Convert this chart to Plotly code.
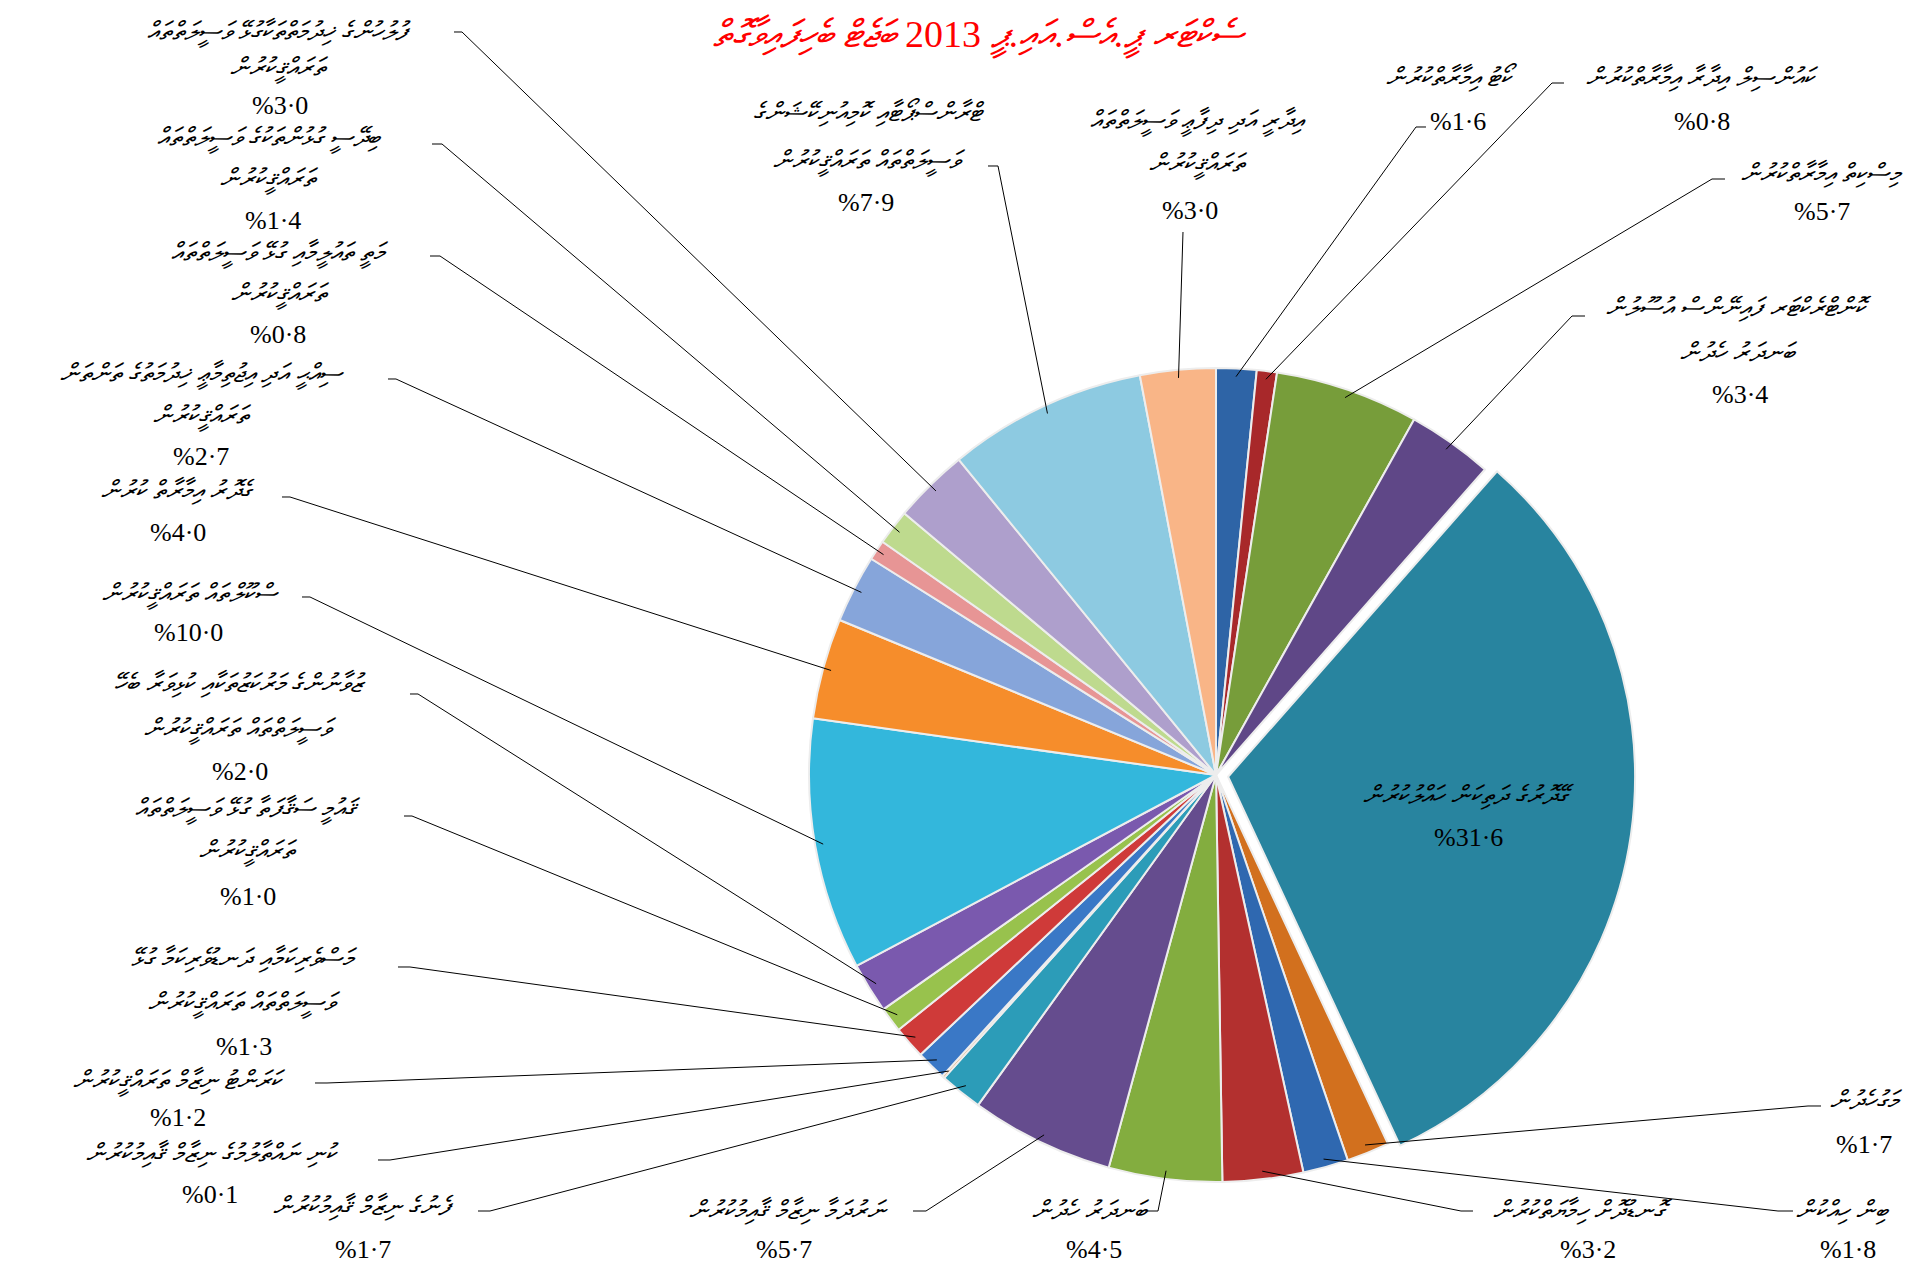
import math
import plotly.graph_objects as go

# ---------------- data ----------------
title_right = "ސެކްޓަރ ޕީ.އެސް.އައި.ޕީ"
title_year = "2013"
title_left = "ބަޖެޓް ބެހިފައިވާގޮތް"

categories = [
    "ކޯޓު އިމާރާތްކުރުން",
    "ކައުންސިލް އިދާރާ އިމާރާތްކުރުން",
    "މިސްކިތް އިމާރާތްކުރުން",
    "ކޮންޓްރެކްޓަރ ފައިނޭންސް އުސޫލުން<br>ބަނދަރު ހެދުން",
    "ގޭދޮރުގެ ދަތިކަން ހައްލުކުރުން",
    "މަގުހެދުން",
    "ބިން ހިއްކުން",
    "ގޮނޑުދޮށް ހިމާޔަތްކުރުން",
    "ބަނދަރު ހެދުން",
    "ނަރުދަމާ ނިޒާމް ޤާއިމުކުރުން",
    "ފެނުގެ ނިޒާމް ޤާއިމުކުރުން",
    "ކުނި ނައްތާލުމުގެ ނިޒާމް ޤާއިމުކުރުން",
    "ކަރަންޓު ނިޒާމް ތަރައްޤީކުރުން",
    "މަސްވެރިކަމާއި ދަނޑުވެރިކަމާ ގުޅޭ<br>ވަސީލަތްތައް ތަރައްޤީކުރުން",
    "ޤައުމީ ސަޤާފަތާ ގުޅޭ ވަސީލަތްތައް<br>ތަރައްޤީކުރުން",
    "ޒުވާނުންގެ މަރުކަޒުތަކާއި ކުޅިވަރާ ބެހޭ<br>ވަސީލަތްތައް ތަރައްޤީކުރުން",
    "ސްކޫލްތައް ތަރައްޤީކުރުން",
    "ގެދޮރު އިމާރާތް ކުރުން",
    "ސިއްޙީ އަދި އިޖުތިމާޢީ ޚިދުމަތުގެ ތަންތަން<br>ތަރައްޤީކުރުން",
    "މަތީ ތައުލީމާއި ގުޅޭ ވަސީލަތްތައް<br>ތަރައްޤީކުރުން",
    "ބިދޭސީ ގުޅުންތަކުގެ ވަސީލަތްތައް<br>ތަރައްޤީކުރުން",
    "ފުލުހުންގެ ޚިދުމަތްތަކާގުޅޭ ވަސީލަތްތައް<br>ތަރައްޤީކުރުން",
    "ޓްރާންސްޕޯޓާއި ކޮމިއުނިކޭޝަންގެ<br>ވަސީލަތްތައް ތަރައްޤީކުރުން",
    "އިދާރީ އަދި ދިފާޢީ ވަސީލަތްތައް<br>ތަރައްޤީކުރުން",
]

values = [1.6, 0.8, 5.7, 3.4, 31.6, 1.7, 1.8, 3.2, 4.5, 5.7, 1.7, 0.1,
          1.2, 1.3, 1.0, 2.0, 10.0, 4.0, 2.7, 0.8, 1.4, 3.0, 7.9, 3.0]

# ---------------- style ----------------
colors = ["#2E64A6", "#A8282A", "#779D3A", "#5F4787", "#28849F", "#D2701E",
          "#2F68B0", "#B3302F", "#83AD3F", "#654C8E", "#2C9CB8", "#E9801F",
          "#3A78C6", "#CF3A39", "#98C24D", "#7A59AE", "#33B7DC", "#F68D2B",
          "#86A5DA", "#E79595", "#BEDA8E", "#AE9FCC", "#8DCAE1", "#F9B587"]

W, H = 1926, 1265
CX, CY, R = 1208, 767, 407
PULL = 0.03
pulls = [PULL if i == 4 else 0 for i in range(len(values))]
DY = -9  # global vertical nudge for labels

# label layout (pixel positions): center x, name line ys, pct (x, y), leader start points
label_pos = [
    dict(cx=1443, ys=[77], pct=(1450, 122), lead=[(1418, 128), (1408, 128)]),
    dict(cx=1694, ys=[77], pct=(1694, 122), lead=[(1556, 84), (1544, 84)]),
    dict(cx=1814, ys=[173], pct=(1814, 213), lead=[(1717, 180), (1704, 180)]),
    dict(cx=1731, ys=[307, 352], pct=(1732, 395), lead=[(1577, 317), (1564, 317)]),
    dict(cx=1460, ys=[795], pct=(1460, 838), lead=None),
    dict(cx=1858, ys=[1100], pct=(1856, 1145), lead=[(1813, 1107), (1800, 1107)]),
    dict(cx=1835, ys=[1210], pct=(1840, 1250), lead=[(1785, 1212), (1770, 1212)]),
    dict(cx=1575, ys=[1210], pct=(1580, 1250), lead=[(1465, 1212), (1453, 1212)]),
    dict(cx=1083, ys=[1210], pct=(1086, 1250), lead=[(1137, 1212), (1150, 1212)]),
    dict(cx=780, ys=[1210], pct=(776, 1250), lead=[(905, 1212), (918, 1212)]),
    dict(cx=355, ys=[1206], pct=(355, 1250), lead=[(470, 1212), (482, 1212)]),
    dict(cx=204, ys=[1153], pct=(202, 1195), lead=[(370, 1161), (382, 1161)]),
    dict(cx=171, ys=[1080], pct=(170, 1118), lead=[(307, 1084), (319, 1084)]),
    dict(cx=236, ys=[958, 1002], pct=(236, 1047), lead=[(390, 968), (402, 968)]),
    dict(cx=240, ys=[808, 850], pct=(240, 897), lead=[(396, 817), (404, 817)]),
    dict(cx=232, ys=[683, 728], pct=(232, 773), lead=[(402, 695), (410, 695)]),
    dict(cx=182, ys=[593], pct=(180, 633), lead=[(294, 598), (302, 598)]),
    dict(cx=170, ys=[490], pct=(170, 533), lead=[(274, 498), (282, 498)]),
    dict(cx=194, ys=[373, 415], pct=(193, 458), lead=[(380, 380), (388, 380)]),
    dict(cx=272, ys=[252, 293], pct=(270, 335), lead=[(422, 257), (432, 257)]),
    dict(cx=261, ys=[137, 178], pct=(265, 221), lead=[(424, 145), (434, 145)]),
    dict(cx=271, ys=[31, 67], pct=(272, 106), lead=[(446, 33), (454, 33)]),
    dict(cx=861, ys=[112, 160], pct=(858, 203), lead=[(980, 167), (990, 167)]),
    dict(cx=1190, ys=[120, 163], pct=(1182, 212), lead=[(1175, 233)]),
]

NAME_FONT = dict(family="Noto Sans, DejaVu Sans", size=26, color="black", style="italic")
PCT_FONT = dict(family="Liberation Serif, Times New Roman, serif", size=26, color="black")


def px(x):
    return x / W


def py(y):
    return 1 - y / H


half = R * (1 + PULL)
fig = go.Figure()
fig.add_trace(go.Pie(
    labels=[c.replace("<br>", " ") for c in categories],
    values=values,
    sort=False,
    direction="clockwise",
    rotation=0,
    pull=pulls,
    textinfo="none",
    hoverinfo="label+percent",
    marker=dict(colors=colors, line=dict(color="#EDEDED", width=2)),
    domain=dict(x=[(CX - half) / W, (CX + half) / W],
                y=[(H - CY - half) / H, (H - CY + half) / H]),
    showlegend=False,
))

annotations = []
shapes = []
total = sum(values)
cum = 0.0
for i, (name, v) in enumerate(zip(categories, values)):
    mid = (cum + v / 2) / total * 2 * math.pi
    cum += v
    p = label_pos[i]
    lines = name.split("<br>")
    for txt, yy in zip(lines, p["ys"]):
        annotations.append(dict(x=px(p["cx"]), y=py(yy + DY), xref="paper", yref="paper",
                                text=txt, showarrow=False, font=NAME_FONT,
                                xanchor="center", yanchor="middle"))
    pct_txt = "%" + f"{v:.1f}".replace(".", "·")
    annotations.append(dict(x=px(p["pct"][0]), y=py(p["pct"][1] + DY), xref="paper", yref="paper",
                            text=pct_txt, showarrow=False, font=PCT_FONT,
                            xanchor="center", yanchor="middle"))
    if p["lead"]:
        ex = CX + R * 0.98 * math.sin(mid)
        ey = CY - R * 0.98 * math.cos(mid)
        pts = [(a, b + DY) for a, b in p["lead"]] + [(ex, ey)]
        path = "M " + " L ".join(f"{px(a):.5f},{py(b):.5f}" for a, b in pts)
        shapes.append(dict(type="path", path=path, xref="paper", yref="paper",
                           line=dict(color="black", width=1)))

title_html = f"<i>{title_right}</i> {title_year} <i>{title_left}</i>"
annotations.append(dict(x=px(972), y=py(28), xref="paper", yref="paper",
                        text=title_html, showarrow=False,
                        font=dict(family="Liberation Serif, Times New Roman, serif",
                                  size=38, color="#FF0000"),
                        xanchor="center", yanchor="middle"))

fig.update_layout(
    width=W, height=H,
    margin=dict(l=0, r=0, t=0, b=0),
    paper_bgcolor="white",
    plot_bgcolor="white",
    annotations=annotations,
    shapes=shapes,
)

fig.write_html("out.html")
